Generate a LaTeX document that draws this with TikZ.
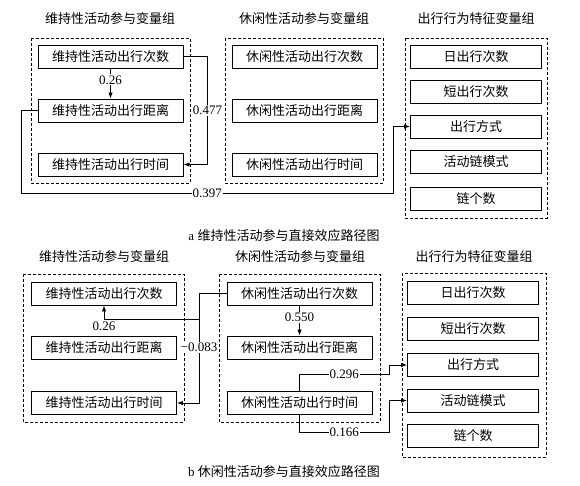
\documentclass[tikz,border=0pt]{standalone}
\usepackage{fontspec}
\setmainfont{Liberation Serif}
\newfontfamily\cjk{Noto Sans CJK SC}
\usepackage{tikz}
\usetikzlibrary{arrows.meta}

\tikzset{
  vbox/.style={draw,line width=0.9pt,minimum width=145pt,minimum height=23pt,inner sep=0pt,font=\cjk\fontsize{13}{15}\selectfont},
  tbox/.style={vbox,minimum width=131pt},
  grp/.style={line width=0.8pt,dash pattern=on 3pt off 2pt},
  ttl/.style={font=\cjk\fontsize{13}{15}\selectfont},
  val/.style={fill=white,inner sep=1pt,font=\fontsize{13}{15}\selectfont},
  captxt/.style={font=\fontsize{13}{15}\selectfont},
}

\begin{document}
\begin{tikzpicture}[x=1pt,y=-1pt,>={Latex[length=6pt,width=4.5pt]},line width=0.8pt]
\useasboundingbox (0,0) rectangle (580,486);
% panel a
\node[ttl] (ga1) at (110,19) {维持性活动参与变量组};
\node[ttl] (ga2) at (304,19) {休闲性活动参与变量组};
\node[ttl] (ga3) at (476,19) {出行行为特征变量组};
\draw[grp] (31,38) rectangle (190,183);
\draw[grp] (225,38) rectangle (383,183);
\draw[grp] (405,38) rectangle (547,218);
\node[vbox] (m1) at (110.5,56.5) {维持性活动出行次数};
\node[vbox] (m2) at (110.5,110.5) {维持性活动出行距离};
\node[vbox] (m3) at (110.5,164.5) {维持性活动出行时间};
\node[vbox] (l1) at (304.5,56.5) {休闲性活动出行次数};
\node[vbox] (l2) at (304.5,110.5) {休闲性活动出行距离};
\node[vbox] (l3) at (304.5,164.5) {休闲性活动出行时间};
\node[tbox] (t1) at (476,56.5) {日出行次数};
\node[tbox] (t2) at (476,91.5) {短出行次数};
\node[tbox] (t3) at (476,126.5) {出行方式};
\node[tbox] (t4) at (476,162) {活动链模式};
\node[tbox] (t5) at (476,198.5) {链个数};
\coordinate (a397) at (393,193);
%
\draw[->] (m1.south) -- node[val,pos=0.38] {0.26} (m2.north);
\draw[->] (m1.east) -| node[val,pos=0.75] {0.477} ([xshift=24pt]m3.east) -- (m3.east);
\draw[->] (m2.west) -- ++(-16,0) |- node[val,pos=0.75] {0.397} (a397) |- (t3.west);
\node[captxt] (capa) at (284,236) {a {\cjk 维持性活动参与直接效应路径图}};
% panel b
\node[ttl] (gb1) at (104,257) {维持性活动参与变量组};
\node[ttl] (gb2) at (300,257) {休闲性活动参与变量组};
\node[ttl] (gb3) at (474,257) {出行行为特征变量组};
\draw[grp] (23,274) rectangle (184,422);
\draw[grp] (219,274) rectangle (380,422);
\draw[grp] (402,273) rectangle (546,457);
\node[vbox] (bm1) at (104,293.5) {维持性活动出行次数};
\node[vbox] (bm2) at (104,348) {维持性活动出行距离};
\node[vbox] (bm3) at (104,403) {维持性活动出行时间};
\node[vbox] (bl1) at (299.5,293.5) {休闲性活动出行次数};
\node[vbox] (bl2) at (299.5,347.5) {休闲性活动出行距离};
\node[vbox] (bl3) at (299.5,402.5) {休闲性活动出行时间};
\node[tbox] (bt1) at (473,293) {日出行次数};
\node[tbox] (bt2) at (473,329) {短出行次数};
\node[tbox] (bt3) at (473,365) {出行方式};
\node[tbox] (bt4) at (473,400.5) {活动链模式};
\node[tbox] (bt5) at (473,436) {链个数};
\coordinate (j083) at (199,319);
\coordinate (b296) at (389,374);
\coordinate (b166) at (389,432);
%
\draw[->] (bl1.south) -- node[val,pos=0.4] {0.550} (bl2.north);
\draw (bl1.west) -| (j083);
\draw[->] (j083) |- node[val,pos=0.17] {−0.083} (bm3.east);
\draw[->] (j083) -| node[pos=0.5,below=1pt,val,fill=none] {0.26} (bm1.south);
\draw[->] (bl3.north) |- node[val,pos=0.75] {0.296} (b296) |- (bt3.west);
\draw[->] (bl3.south) |- node[val,pos=0.75] {0.166} (b166) |- (bt4.west);
\node[captxt] (capb) at (284,472) {b {\cjk 休闲性活动参与直接效应路径图}};
\end{tikzpicture}
\end{document}
